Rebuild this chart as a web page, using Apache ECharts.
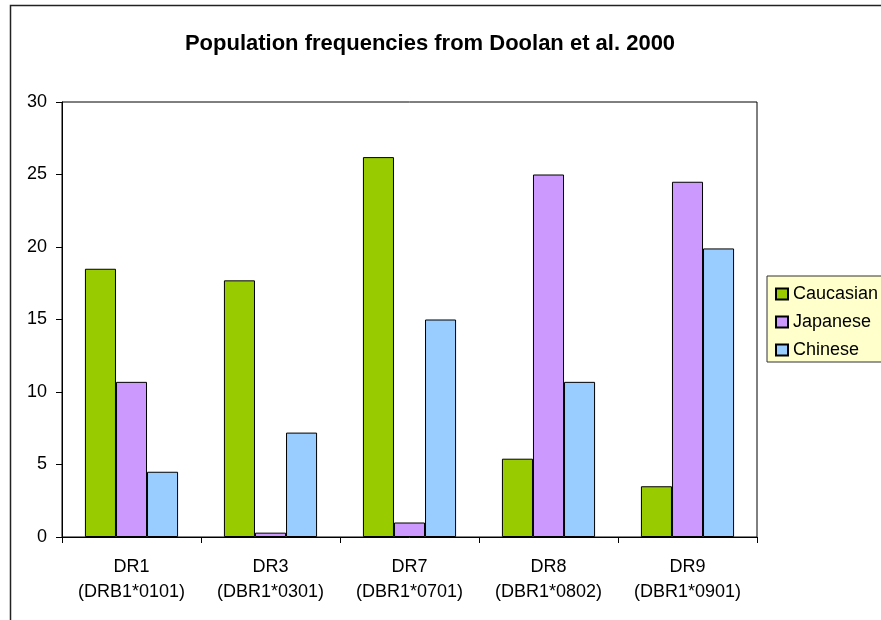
<!DOCTYPE html>
<html>
<head>
<meta charset="utf-8">
<script src="https://cdn.jsdelivr.net/npm/echarts@6/dist/echarts.min.js"></script>
<style>
  html, body { margin: 0; padding: 0; background: #fff; }
  #chart { width: 881px; height: 620px; }
</style>
</head>
<body>
<div id="chart"></div>
<script>
// HLA-DR allele frequencies by population
const categories = [
  'DR1\n(DRB1*0101)',
  'DR3\n(DBR1*0301)',
  'DR7\n(DBR1*0701)',
  'DR8\n(DBR1*0802)',
  'DR9\n(DBR1*0901)'
];
const caucasian = [18.5, 17.7, 26.2, 5.4, 3.5];
const japanese  = [10.7, 0.3, 1.0, 25.0, 24.5];
const chinese   = [4.5, 7.2, 15.0, 10.7, 19.9];
const seriesNames = ['Caucasian', 'Japanese', 'Chinese'];
const seriesColors = ['#99CC00', '#CC99FF', '#99CCFF'];

const FONT = 'Liberation Sans, Arial, sans-serif';

const chart = echarts.init(document.getElementById('chart'), null, { renderer: 'canvas' });

const values = [caucasian, japanese, chinese];

chart.setOption({
  animation: false,
  backgroundColor: '#ffffff',
  textStyle: { fontFamily: FONT },
  title: {
    text: 'Population frequencies from Doolan et al. 2000',
    left: 430,
    textAlign: 'center',
    top: 33,
    padding: 0,
    textStyle: { fontFamily: FONT, fontSize: 22, fontWeight: 'bold', color: '#000' }
  },
  legend: {
    orient: 'vertical',
    left: 767,
    top: 276,
    padding: [9, 20, 3, 8],
    itemGap: 10,
    itemWidth: 12,
    itemHeight: 11,
    backgroundColor: '#FFFFCC',
    borderColor: '#333',
    borderWidth: 1,
    borderRadius: 0,
    icon: 'rect',
    textStyle: { fontFamily: FONT, fontSize: 18, color: '#000', lineHeight: 18 },
    data: seriesNames
  },
  grid: {
    left: 62,
    top: 102,
    right: 124,
    bottom: 83,
    show: true,
    borderColor: '#000',
    borderWidth: 1,
    backgroundColor: 'transparent'
  },
  xAxis: {
    type: 'category',
    data: categories,
    axisLine: { lineStyle: { color: '#000', width: 1 } },
    axisTick: { show: true, length: 6, lineStyle: { color: '#000' } },
    axisLabel: {
      fontFamily: FONT, fontSize: 18, color: '#000',
      lineHeight: 25, margin: 18, interval: 0
    },
    splitLine: { show: false }
  },
  yAxis: {
    type: 'value',
    min: 0,
    max: 30,
    interval: 5,
    axisLine: { show: true, lineStyle: { color: '#000', width: 1 } },
    axisTick: { show: true, length: 6, lineStyle: { color: '#000' } },
    axisLabel: { fontFamily: FONT, fontSize: 18, color: '#000', margin: 15 },
    splitLine: { show: false }
  },
  series: seriesNames.map((name, i) => ({
    name: name,
    type: 'bar',
    data: values[i],
    barGap: '0%',
    barCategoryGap: '33%',
    itemStyle: {
      color: seriesColors[i],
      borderColor: '#000',
      borderWidth: 1
    }
  })),
  graphic: [{
    type: 'rect',
    shape: { x: 10.5, y: 5.5, width: 900, height: 700 },
    style: { fill: 'none', stroke: '#222', lineWidth: 1.5 },
    silent: true,
    z: 100
  }]
});
</script>
</body>
</html>
